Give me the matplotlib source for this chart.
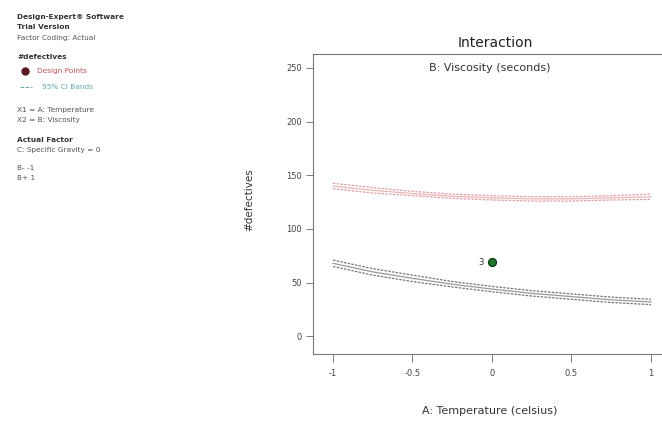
import matplotlib
matplotlib.use('Agg')
import matplotlib.pyplot as plt

# data
temp = [-1, -0.75, -0.5, -0.25, 0, 0.25, 0.5, 0.75, 1]
visc_hi = [140, 136, 133, 130.5, 129, 128, 128, 129, 130]
visc_hi_up = [142.5, 138.5, 135, 132.5, 131, 130, 130, 131, 132.5]
visc_hi_lo = [137.5, 133.5, 131, 128.5, 127, 126, 126, 127, 127.5]
visc_lo = [68, 60, 54, 48.5, 44, 40, 37, 34, 32]
visc_lo_up = [71, 63, 57, 51, 46.5, 42.5, 39.5, 36.5, 34.5]
visc_lo_lo = [65, 57, 51, 46, 41.5, 37.5, 34.5, 31.5, 29.5]
pt_x = [0]
pt_y = [69]
yticks = [0, 50, 100, 150, 200, 250]
xticks = [-1, -0.5, 0, 0.5, 1]
xticklabels = ['-1', '-0.5', '0', '0.5', '1']

fig = plt.figure(figsize=(6.62, 4.24), dpi=100)
ax = fig.add_axes([313/662, 1-354/424, (662-313)/662, (354-54)/424])

red = '#d9868c'
blk = '#555555'
for c, m, u, l in [(red, visc_hi, visc_hi_up, visc_hi_lo), (blk, visc_lo, visc_lo_up, visc_lo_lo)]:
    ax.plot(temp, m, color=c, lw=0.9, alpha=0.6)
    ax.plot(temp, u, color=c, lw=0.9, ls=(0, (2, 1)), alpha=0.8)
    ax.plot(temp, l, color=c, lw=0.9, ls=(0, (2, 1)), alpha=0.8)

ax.scatter(pt_x, pt_y, s=32, color='#1f7a2e', edgecolors='#0d3d14', zorder=5)
ax.text(pt_x[0] - 0.05, pt_y[0], '3', fontsize=6, ha='right', va='center', color='#333333')

ax.set_xlim(-1.126, 1.07)
ax.set_ylim(-16.5, 263)
ax.set_yticks(yticks)
ax.set_yticklabels([str(v) for v in yticks], fontsize=6, color='#444444')
ax.set_xticks(xticks)
ax.set_xticklabels(xticklabels, fontsize=6, color='#444444')
ax.tick_params(axis='y', direction='out', length=5, width=0.6, color='#666666', pad=3)
ax.tick_params(axis='x', direction='out', length=6, width=0.6, color='#666666', pad=5)
ax.spines['right'].set_visible(False)
for s in ['left', 'top', 'bottom']:
    ax.spines[s].set_color('#777777')
    ax.spines[s].set_linewidth(0.8)

fig.text(495/662, 1-43/424, 'Interaction', fontsize=10, ha='center', va='center', color='#222222')
fig.text(490/662, 1-68/424, 'B: Viscosity (seconds)', fontsize=8, ha='center', va='center', color='#333333')
fig.text(249/662, 1-200/424, '#defectives', fontsize=7.5, rotation=90, ha='center', va='center', color='#333333')
fig.text(490/662, 1-411/424, 'A: Temperature (celsius)', fontsize=8, ha='center', va='center', color='#333333')

# left info block
fs = 5.3
def t(x, y, s, **kw):
    fig.text(x/662, 1-y/424, s, fontsize=fs, va='center', ha='left', **kw)

t(17, 17, 'Design-Expert\u00ae Software', weight='bold', color='#333333')
t(17, 27, 'Trial Version', weight='bold', color='#333333')
t(17, 38, 'Factor Coding: Actual', color='#555555')
t(17, 57, '#defectives', weight='bold', color='#333333')
fig.lines.append(plt.Line2D([25/662], [1-71/424], marker='o', ms=5, color='#5a1a1f',
                            transform=fig.transFigure, figure=fig))
t(37, 71, 'Design Points', color='#c0505a')
fig.lines.append(plt.Line2D([20/662, 32/662], [1-87/424, 1-87/424], ls='--', lw=0.7, color='#5fa8b0',
                            transform=fig.transFigure, figure=fig))
t(42, 87, '95% CI Bands', color='#5fa8b0')
t(17, 110, 'X1 = A: Temperature', color='#555555')
t(17, 120, 'X2 = B: Viscosity', color='#555555')
t(17, 140, 'Actual Factor', weight='bold', color='#333333')
t(17, 150, 'C: Specific Gravity = 0', color='#555555')
t(17, 168, 'B- -1', color='#555555')
t(17, 178, 'B+ 1', color='#555555')

plt.savefig('out.png', dpi=100)
